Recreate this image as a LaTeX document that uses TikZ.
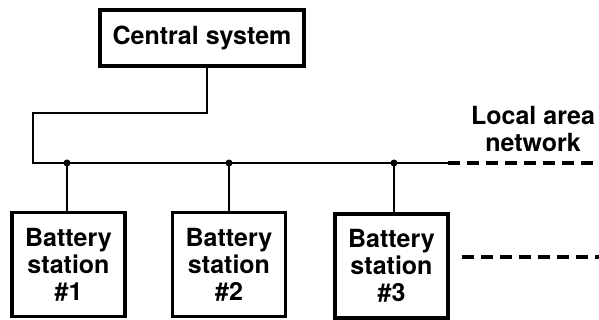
\documentclass[tikz,border=0pt]{standalone}
\usepackage{fontspec}
\setmainfont{TeX Gyre Heros}
\begin{document}
\begin{tikzpicture}[x=1pt, y=-1pt,
    box/.style={draw, line width=3.4pt, inner sep=0pt, align=center,
      font=\bfseries\fontsize{25}{27}\selectfont},
    station/.style={box, minimum width=113pt, minimum height=104pt},
    wire/.style={line width=2.4pt},
    lanwire/.style={line width=3.2pt, dash pattern=on 12pt off 7pt},
    tap/.style={circle, fill, inner sep=0pt, minimum size=7pt}]
    \useasboundingbox (0,0) rectangle (599,320);
    % central system and stations
    \node[box, minimum width=204pt, minimum height=56pt] (central) at (202,38) {Central system};
    \node[station] (bat1) at (68.5,264.5) {Battery\\station\\\#1};
    \node[station] (bat2) at (229,264.5) {Battery\\station\\\#2};
    \node[station] (bat3) at (391.5,266) {Battery\\station\\\#3};
    % bus
    \coordinate (down) at (207,113);
    \coordinate (corner) at (33,113);
    \coordinate (busstart) at (33,163);
    \coordinate (solidend) at (448,163);
    \coordinate (busend) at (599,163);
    \node[tap] (tap1) at (67,163) {};
    \node[tap] (tap2) at (229,163) {};
    \node[tap] (tap3) at (394,163) {};
    \draw[wire] (central.south -| down) -- (down) -- (corner) -- (busstart) -- (solidend);
    \draw[lanwire] (solidend) -- (busend);
    \draw[wire] (tap1.center) -- (tap1 |- bat1.north);
    \draw[wire] (tap2.center) -- (tap2 |- bat2.north);
    \draw[wire] (tap3.center) -- (tap3 |- bat3.north);
    % second network
    \coordinate (lan2a) at (462,257);
    \coordinate (lan2b) at (599,257);
    \draw[lanwire] (lan2a) -- (lan2b);
    \node[align=center, font=\bfseries\fontsize{25}{27}\selectfont] (lanlabel) at (533,129) {Local area\\network};
\end{tikzpicture}
\end{document}
